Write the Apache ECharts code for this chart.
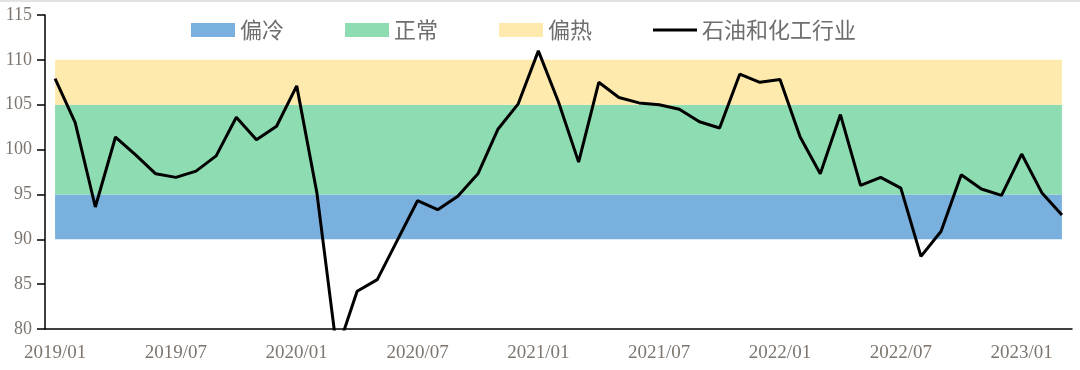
<!DOCTYPE html>
<html><head><meta charset="utf-8">
<script src="https://cdn.jsdelivr.net/npm/echarts@6/dist/echarts.min.js"></script>
<style>html,body{margin:0;padding:0;background:#fff;}#c{width:1080px;height:370px;}</style>
</head><body><div id="c"></div>
<script>
const categories = ['2019/01','2019/02','2019/03','2019/04','2019/05','2019/06','2019/07','2019/08','2019/09','2019/10','2019/11','2019/12',
'2020/01','2020/02','2020/03','2020/04','2020/05','2020/06','2020/07','2020/08','2020/09','2020/10','2020/11','2020/12',
'2021/01','2021/02','2021/03','2021/04','2021/05','2021/06','2021/07','2021/08','2021/09','2021/10','2021/11','2021/12',
'2022/01','2022/02','2022/03','2022/04','2022/05','2022/06','2022/07','2022/08','2022/09','2022/10','2022/11','2022/12',
'2023/01','2023/02','2023/03'];
const industry = [107.9,103.0,93.6,101.4,99.4,97.3,96.9,97.6,99.3,103.6,101.1,102.6,
107.1,95.2,77.5,84.2,85.5,89.9,94.3,93.3,94.8,97.3,102.3,105.1,
111.0,105.3,98.6,107.5,105.8,105.2,105.0,104.5,103.1,102.4,108.4,107.5,
107.8,101.4,97.3,103.9,96.0,96.9,95.7,88.1,90.9,97.2,95.6,94.9,
99.5,95.2,92.7];
const bandBase = 90;
const coldWidth = 5;
const normalWidth = 10;
const hotWidth = 5;
const yTicks = {min: 80, max: 115, interval: 5};

const fill = v => categories.map(() => v);
const bandSeries = (name, data, color) => ({
  name, type: 'line', stack: 'band', data, symbol: 'none', silent: true,
  color, lineStyle: {width: 0, color}, areaStyle: {color, opacity: 1}, z: 1
});
const chart = echarts.init(document.getElementById('c'));
chart.setOption({
  animation: false,
  grid: {left: 45, right: 8, top: 15, bottom: 41, containLabel: false},
  legend: {
    left: 186, top: 14, itemWidth: 44, itemHeight: 14, itemGap: 61,
    textStyle: {fontSize: 22, color: '#6e6e6e', fontFamily: 'Noto Sans CJK SC'},
    data: [
      {name: '偏冷', icon: 'rect'},
      {name: '正常', icon: 'rect'},
      {name: '偏热', icon: 'rect'},
      {name: '石油和化工行业', icon: 'path://M0,0L44,0L44,3.2L0,3.2Z', itemStyle: {color: '#000'}}
    ]
  },
  xAxis: {
    type: 'category', data: categories, boundaryGap: true,
    axisLine: {lineStyle: {color: '#000', width: 1.5}},
    axisTick: {interval: 5, length: 7, lineStyle: {color: '#000', width: 1.5}},
    axisLabel: {interval: 5, fontSize: 19, color: '#7d756e', fontFamily: 'Liberation Serif', margin: 15}
  },
  yAxis: {
    type: 'value', min: yTicks.min, max: yTicks.max, interval: yTicks.interval,
    splitLine: {show: false},
    axisLine: {show: true, lineStyle: {color: '#000', width: 1.5}},
    axisTick: {show: true, length: 8, lineStyle: {color: '#000', width: 1.5}},
    axisLabel: {fontSize: 18, color: '#7d756e', fontFamily: 'Liberation Serif', margin: 13}
  },
  series: [
    {name: 'base', type: 'line', stack: 'band', data: fill(bandBase), symbol: 'none', silent: true, lineStyle: {width: 0}, z: 1},
    bandSeries('偏冷', fill(coldWidth), '#7ab0dd'),
    bandSeries('正常', fill(normalWidth), '#8edcb1'),
    bandSeries('偏热', fill(hotWidth), '#ffeaad'),
    {name: '石油和化工行业', type: 'line', data: industry, symbol: 'none', color: '#000',
     lineStyle: {color: '#000', width: 3}, z: 5, clip: true}
  ],
  graphic: [{type: 'rect', shape: {x: 0, y: 0, width: 1080, height: 2}, style: {fill: '#e2e2e2'}}]
});
</script></body></html>
